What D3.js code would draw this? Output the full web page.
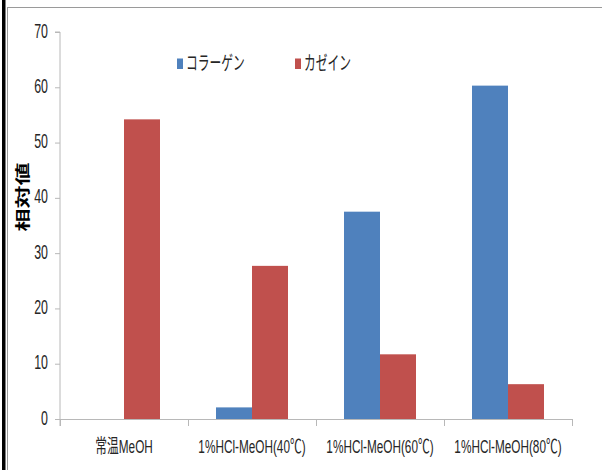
<!DOCTYPE html>
<html><head><meta charset="utf-8">
<script src="https://cdn.jsdelivr.net/npm/d3@7"></script>
<style>html,body{margin:0;padding:0;background:#fff;overflow:hidden}</style>
</head><body>
<script>
const categories = ["常温MeOH", "1%HCl-MeOH(40℃)", "1%HCl-MeOH(60℃)", "1%HCl-MeOH(80℃)"];
const seriesNames = ["コラーゲン", "カゼイン"];
const collagen = [0, 2.1, 37.5, 60.3];
const casein = [54.2, 27.7, 11.7, 6.3];
const yTicks = [0, 10, 20, 30, 40, 50, 60, 70];
const colors = ["#4F81BD", "#C0504D"];
const yTitle = "相対値";

const W = 602, H = 470;
const SX = 0.62;
const FONT = "'Liberation Sans', Arial, 'Noto Sans CJK JP', sans-serif";
const svg = d3.select("body").append("svg").attr("width", W).attr("height", H);

svg.append("rect").attr("width", W).attr("height", H).attr("fill", "#fff");
// frame
svg.append("rect").attr("x", 2).attr("y", 0).attr("width", 3.5).attr("height", H).attr("fill", "#000");
svg.append("line").attr("x1", 7.5).attr("x2", 7.5).attr("y1", 7).attr("y2", H).attr("stroke", "#9a9a9a").attr("stroke-width", 1);
svg.append("line").attr("x1", 7).attr("x2", W).attr("y1", 7.5).attr("y2", 7.5).attr("stroke", "#9a9a9a").attr("stroke-width", 1.2);

const x0 = d3.scaleBand().domain(categories).range([60, 572]).padding(0);
const x1 = d3.scaleBand().domain(seriesNames).range([0, x0.bandwidth()]).paddingInner(0).paddingOuter(28 / 36);
const y = d3.scaleLinear().domain([0, 70]).range([419, 32]);

const data = categories.map((c, i) => ({ c, vals: [collagen[i], casein[i]] }));

// bars
const g = svg.append("g");
data.forEach(d => {
  d.vals.forEach((v, j) => {
    if (v <= 0) return;
    g.append("rect")
      .attr("x", x0(d.c) + x1(seriesNames[j]))
      .attr("y", y(v))
      .attr("width", x1.bandwidth())
      .attr("height", y(0) - y(v))
      .attr("fill", colors[j]);
  });
});

const axisColor = "#b8b8b8";
// y axis
const yAxis = svg.append("g").attr("transform", "translate(60,0)")
  .call(d3.axisLeft(y).tickValues(yTicks).tickSize(5).tickFormat(""));
yAxis.select(".domain").attr("stroke", axisColor).attr("d", `M-5,${y(70)}H0V${y(0) + 7}`);
yAxis.selectAll(".tick line").attr("stroke", axisColor);

// x axis
const xb = svg.append("g").attr("transform", `translate(0,${y(0)})`);
xb.append("line").attr("x1", 60).attr("x2", 572).attr("y1", 0.5).attr("y2", 0.5).attr("stroke", axisColor);
const bounds = categories.map(c => x0(c)).concat([x0(categories[categories.length - 1]) + x0.bandwidth()]);
bounds.forEach(b => {
  xb.append("line").attr("x1", b + 0.5).attr("x2", b + 0.5).attr("y1", 0).attr("y2", 7).attr("stroke", axisColor);
});

function sText(x, yy, txt, opts) {
  const t = svg.append("text")
    .attr("transform", `translate(${x},${yy}) scale(${SX},1)` + (opts.rotate ? ` rotate(${opts.rotate})` : ""))
    .attr("font-family", FONT)
    .attr("font-size", opts.size)
    .attr("fill", opts.fill || "#262626")
    .attr("text-anchor", opts.anchor || "start")
    .attr("dominant-baseline", "central")
    .text(txt);
  if (opts.bold) t.attr("font-weight", "bold");
  return t;
}

// y tick labels
yTicks.forEach(v => sText(48, y(v) - 1, String(v), { size: 20, anchor: "end" }));

// x labels
categories.forEach(c => sText(x0(c) + x0.bandwidth() / 2, 446, c, { size: 19, anchor: "middle" }));

// y title
sText(23, 197, yTitle, { size: 23, anchor: "middle", rotate: -90, bold: true, fill: "#000" });

// legend
const legX = [177, 295];
seriesNames.forEach((s, j) => {
  svg.append("rect").attr("x", legX[j]).attr("y", 58.5).attr("width", 6).attr("height", 10.5).attr("fill", colors[j]);
  sText(legX[j] + 9, 63.5, s, { size: 19 });
});
</script>
</body></html>
